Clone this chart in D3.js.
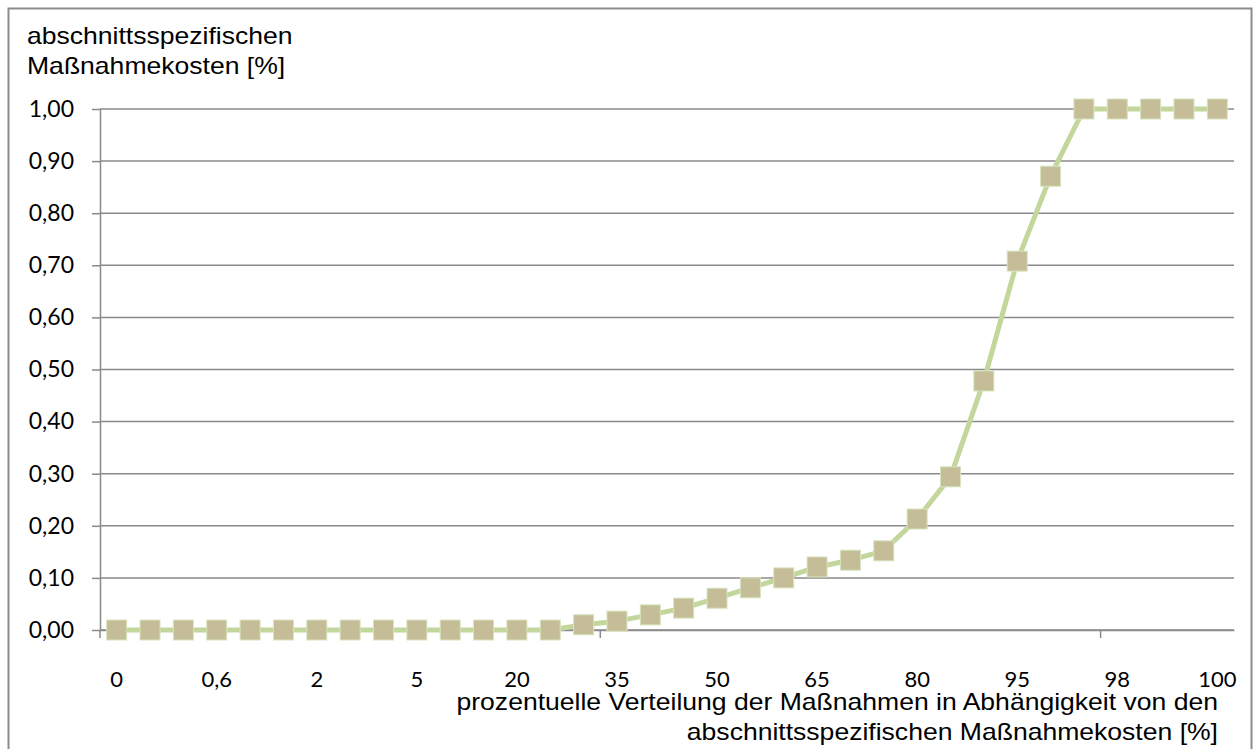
<!DOCTYPE html>
<html>
<head>
<meta charset="utf-8">
<script src="https://cdn.jsdelivr.net/npm/d3@7"></script>
<style>
  body { margin: 0; background: #fff; }
  svg { display: block; }
</style>
</head>
<body>
<svg id="chart" width="1255" height="749"></svg>
<script>
"use strict";

// Kategorien (prozentuelle Verteilung), nur jede dritte wird beschriftet
var categories = ["0", "0,2", "0,4", "0,6", "0,8", "1", "2", "3", "4", "5", "10", "15",
    "20", "25", "30", "35", "40", "45", "50", "55", "60", "65", "70", "75",
    "80", "85", "90", "95", "96", "97", "98", "99", "99,5", "100"]

var values = [0, 0, 0, 0, 0, 0, 0, 0, 0, 0, 0, 0, 0, 0,
    0.01, 0.017, 0.029, 0.042, 0.061, 0.081, 0.10, 0.121, 0.134, 0.152,
    0.213, 0.294, 0.478, 0.708, 0.871, 1, 1, 1, 1, 1]

var yTicks = [0, 0.1, 0.2, 0.3, 0.4, 0.5, 0.6, 0.7, 0.8, 0.9, 1.0]

var yTitle = ["abschnittsspezifischen", "Maßnahmekosten [%]"]
var xTitle = ["prozentuelle Verteilung der Maßnahmen in Abhängigkeit von den",
    "abschnittsspezifischen Maßnahmekosten [%]"]

var svg = d3.select("#chart")
var plot = { left: 100, right: 1234, top: 109, bottom: 630 }
var grey = "#8a8a8a"

var data = categories.map((c, i) => ({ cat: c, val: values[i] }))

var x = d3.scaleBand().domain(categories).range([plot.left, plot.right]).padding(0)
var y = d3.scaleLinear().domain([0, 1]).range([plot.bottom, plot.top])
var de = d3.formatLocale({ decimal: ",", thousands: ".", grouping: [3], currency: ["", " €"] })
var fmt = de.format(".2f")

// Rahmen
svg.append("rect")
    .attr("x", 8.5).attr("y", 8.5)
    .attr("width", 1243).attr("height", 760)
    .attr("fill", "none").attr("stroke", "#8c8c8c").attr("stroke-width", 2)

// Gitternetzlinien
svg.append("g")
    .selectAll("line")
    .data(yTicks)
    .join("line")
    .attr("x1", plot.left).attr("x2", plot.right)
    .attr("y1", d => y(d)).attr("y2", d => y(d))
    .attr("stroke", grey).attr("stroke-width", 1.5)

// y-Achse
var yAxis = svg.append("g")
    .attr("transform", "translate(" + plot.left + ",0)")
    .call(d3.axisLeft(y).tickValues(yTicks).tickFormat(fmt).tickSize(8).tickSizeOuter(0).tickPadding(18))
yAxis.select(".domain").attr("stroke", grey).attr("stroke-width", 1.5)
yAxis.selectAll(".tick line").attr("stroke", grey).attr("stroke-width", 1.5)
yAxis.selectAll("text")
    .attr("font-family", "Lato, sans-serif")
    .attr("font-size", 23).attr("fill", "#000")

// x-Achse: Beschriftung jede dritte Kategorie
var xAxis = svg.append("g")
    .attr("transform", "translate(0," + plot.bottom + ")")
    .call(d3.axisBottom(x).tickValues(categories.filter((c, i) => i % 3 === 0)).tickSize(0).tickSizeOuter(0).tickPadding(41))
xAxis.select(".domain").attr("stroke", grey).attr("stroke-width", 1.5)
xAxis.selectAll("text")
    .attr("font-family", "Lato, sans-serif")
    .attr("font-size", 22).attr("fill", "#000")

// Teilstriche alle 15 Kategorien
svg.append("g")
    .selectAll("line")
    .data(categories.filter((c, i) => i % 15 === 0))
    .join("line")
    .attr("x1", d => x(d)).attr("x2", d => x(d))
    .attr("y1", plot.bottom).attr("y2", plot.bottom + 8)
    .attr("stroke", grey).attr("stroke-width", 1.5)

// Linie
var line = d3.line()
    .x(d => x(d.cat) + x.bandwidth() / 2)
    .y(d => y(d.val))

svg.append("path")
    .datum(data)
    .attr("d", line)
    .attr("fill", "none")
    .attr("stroke", "#c3d69b")
    .attr("stroke-width", 5)
    .attr("stroke-linejoin", "round")

// Marker
var m = 20
svg.append("g")
    .selectAll("rect")
    .data(data)
    .join("rect")
    .attr("x", d => x(d.cat) + x.bandwidth() / 2 - m / 2)
    .attr("y", d => y(d.val) - m / 2)
    .attr("width", m).attr("height", m)
    .attr("fill", "#c4bd97")
    .attr("stroke", "#d7e4bd").attr("stroke-width", 1)

// Achsentitel (im Original leicht in die Breite gezogen)
var stretch = 1.155

svg.append("g")
    .attr("transform", "translate(27,0) scale(" + stretch + ",1)")
    .append("text")
    .attr("font-family", "Liberation Sans, Arial, sans-serif")
    .attr("font-size", 23)
    .selectAll("tspan")
    .data(yTitle)
    .join("tspan")
    .attr("x", 0)
    .attr("y", (d, i) => 44 + i * 30)
    .text(d => d)

svg.append("g")
    .attr("transform", "translate(1218,0) scale(" + stretch + ",1)")
    .append("text")
    .attr("font-family", "Liberation Sans, Arial, sans-serif")
    .attr("font-size", 23)
    .attr("text-anchor", "end")
    .selectAll("tspan")
    .data(xTitle)
    .join("tspan")
    .attr("x", 0)
    .attr("y", (d, i) => 710 + i * 30)
    .text(d => d)
</script>
</body>
</html>
